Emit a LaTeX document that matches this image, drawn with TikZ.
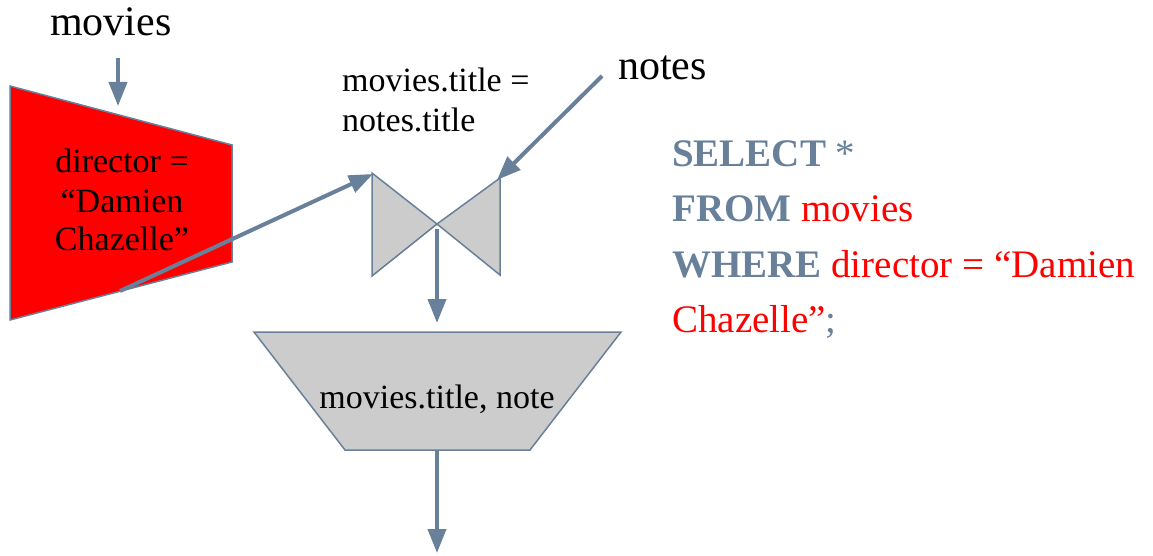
\documentclass[tikz,border=0pt]{standalone}
\usepackage{fontspec}
\setmainfont{Liberation Serif}
\usetikzlibrary{arrows.meta}
\definecolor{slate}{RGB}{104,128,154}
\definecolor{opgray}{RGB}{204,204,204}
\definecolor{sqlred}{RGB}{255,0,0}
\begin{document}
\begin{tikzpicture}[x=1pt,y=-1pt,
  flow/.style={draw=slate,line width=4pt,-{Triangle[length=24pt,width=18pt]}},
  opshape/.style={draw=slate,line width=1.5pt,line join=miter},
  title/.style={anchor=base west,inner sep=0pt,font=\fontsize{42}{48}\selectfont},
  lbl/.style={anchor=base,inner sep=0pt,font=\fontsize{34}{40}\selectfont},
  sql/.style={anchor=base west,inner sep=0pt,font=\fontsize{39}{47}\selectfont}]
\useasboundingbox (0,0) rectangle (1153,556);

% relation names
\node[title] (mv) at (50,36) {movies};
\node[title] (nt) at (618,80) {notes};

% selection on movies
\draw[opshape,fill=red] (10,86) -- (232,145) -- (232,262) -- (10,320) -- cycle;
\node[lbl] (sel1) at (122,173) {director =};
\node[lbl] (sel2) at (122,212) {“Damien};
\node[lbl] (sel3) at (122,250) {Chazelle”};

% join
\draw[opshape,fill=opgray] (372,173) -- (372,276) -- (437,224) -- cycle;
\draw[opshape,fill=opgray] (437,224) -- (500,178) -- (500,275) -- cycle;
\node[lbl,anchor=base west] (jn1) at (342,92) {movies.title =};
\node[lbl,anchor=base west] (jn2) at (342,132) {notes.title};

% projection
\draw[opshape,fill=opgray] (254,332) -- (621,332) -- (530,450) -- (345,450) -- cycle;
\node[lbl] (proj) at (437,408) {movies.title, note};

% connector end points
\coordinate (mvOut) at (118,58);
\coordinate (selIn) at (118,106);
\coordinate (selOut) at (120,291);
\coordinate (joinInL) at (373,174);
\coordinate (ntOut) at (602,76);
\coordinate (joinInR) at (497,180);
\coordinate (joinOut) at (437,229);
\coordinate (projIn) at (437,323);
\coordinate (projOut) at (437,450);
\coordinate (result) at (437,553);

\draw[flow] (mvOut) -- (selIn);
\draw[flow] (selOut) -- (joinInL);
\draw[flow] (ntOut) -- (joinInR);
\draw[flow] (joinOut) -- (projIn);
\draw[flow] (projOut) -- (result);

% SQL text
\node[sql] (q1) at (672,167) {\textcolor{slate}{\textbf{SELECT} *}};
\node[sql] (q2) at (672,222) {\textcolor{slate}{\textbf{FROM}} \textcolor{sqlred}{movies}};
\node[sql] (q3) at (672,277) {\textcolor{slate}{\textbf{WHERE}} \textcolor{sqlred}{director = “Damien}};
\node[sql] (q4) at (672,332) {\textcolor{sqlred}{Chazelle”}\textcolor{slate}{;}};
\end{tikzpicture}
\end{document}
